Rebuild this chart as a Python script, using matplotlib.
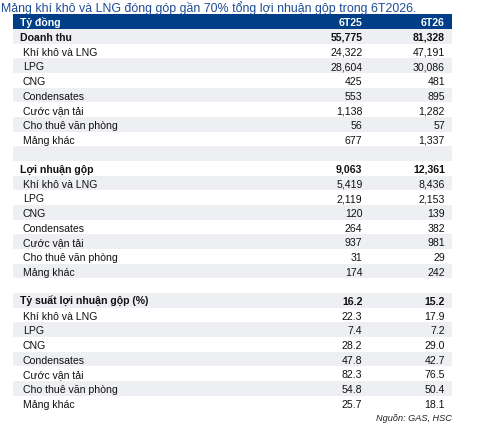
import matplotlib.pyplot as plt
from matplotlib.patches import Rectangle

plt.rcParams['font.family'] = ['Liberation Sans', 'DejaVu Sans']

title = "Mảng khí khô và LNG đóng góp gần 70% tổng lợi nhuận gộp trong 6T2026."
header = ["Tỷ đồng", "6T25", "6T26"]
segments = ["Khí khô và LNG", "LPG", "CNG", "Condensates", "Cước vận tải",
            "Cho thuê văn phòng", "Mảng khác"]

revenue_total = ["55,775", "81,328"]
revenue_25 = ["24,322", "28,604", "425", "553", "1,138", "56", "677"]
revenue_26 = ["47,191", "30,086", "481", "895", "1,282", "57", "1,337"]

profit_total = ["9,063", "12,361"]
profit_25 = ["5,419", "2,119", "120", "264", "937", "31", "174"]
profit_26 = ["8,436", "2,153", "139", "382", "981", "29", "242"]

margin_total = ["16.2", "15.2"]
margin_25 = ["22.3", "7.4", "28.2", "47.8", "82.3", "54.8", "25.7"]
margin_26 = ["17.9", "7.2", "29.0", "42.7", "76.5", "50.4", "18.1"]

source = "Nguồn: GAS, HSC"

# build rows: (label, v25, v26, bold)
rows = []
for name, tot, v25, v26 in [("Doanh thu", revenue_total, revenue_25, revenue_26),
                            ("Lợi nhuận gộp", profit_total, profit_25, profit_26),
                            ("Tỷ suất lợi nhuận gộp (%)", margin_total, margin_25, margin_26)]:
    if rows:
        rows.append(("", "", "", False))
    rows.append((name, tot[0], tot[1], True))
    for s, a, b in zip(segments, v25, v26):
        rows.append((s, a, b, False))

W, H = 478, 431
fig = plt.figure(figsize=(W / 100, H / 100), dpi=100)
ax = fig.add_axes([0, 0, 1, 1])
ax.set_xlim(0, W)
ax.set_ylim(H, 0)
ax.axis("off")

blue = "#003F87"
stripe = "#EEEFF3"
x0, x1 = 13, 452
top = 15.3
rh = 14.67
c1, c2 = 362.5, 445
fs = 7.6
base = 11.0  # baseline offset inside a row

ax.text(1, 12.0, title, fontsize=8.9, color="#1E4C96", va="baseline", ha="left")

ax.add_patch(Rectangle((x0, top), x1 - x0, rh, color=blue, lw=0))
yb = top + base
ax.text(20, yb, header[0], color="white", fontsize=fs, weight="bold", va="baseline")
ax.text(c1, yb, header[1], color="white", fontsize=fs, weight="bold", va="baseline", ha="right")
ax.text(c2, yb, header[2], color="white", fontsize=fs, weight="bold", va="baseline", ha="right")

for i, (lab, a, b, bold) in enumerate(rows, start=1):
    y = top + i * rh
    if i % 2 == 1:
        ax.add_patch(Rectangle((x0, y), x1 - x0, rh, color=stripe, lw=0))
    yb = y + base
    w = "bold" if bold else "normal"
    ax.text(20 if bold else 23, yb, lab, fontsize=fs, weight=w, va="baseline", color="#111111")
    ax.text(c1, yb, a, fontsize=fs, weight=w, va="baseline", ha="right", color="#111111")
    ax.text(c2, yb, b, fontsize=fs, weight=w, va="baseline", ha="right", color="#111111")

ax.text(452, 421.5, source, fontsize=6.6, style="italic", va="baseline", ha="right", color="#222222")

fig.savefig("out.png", dpi=100)
